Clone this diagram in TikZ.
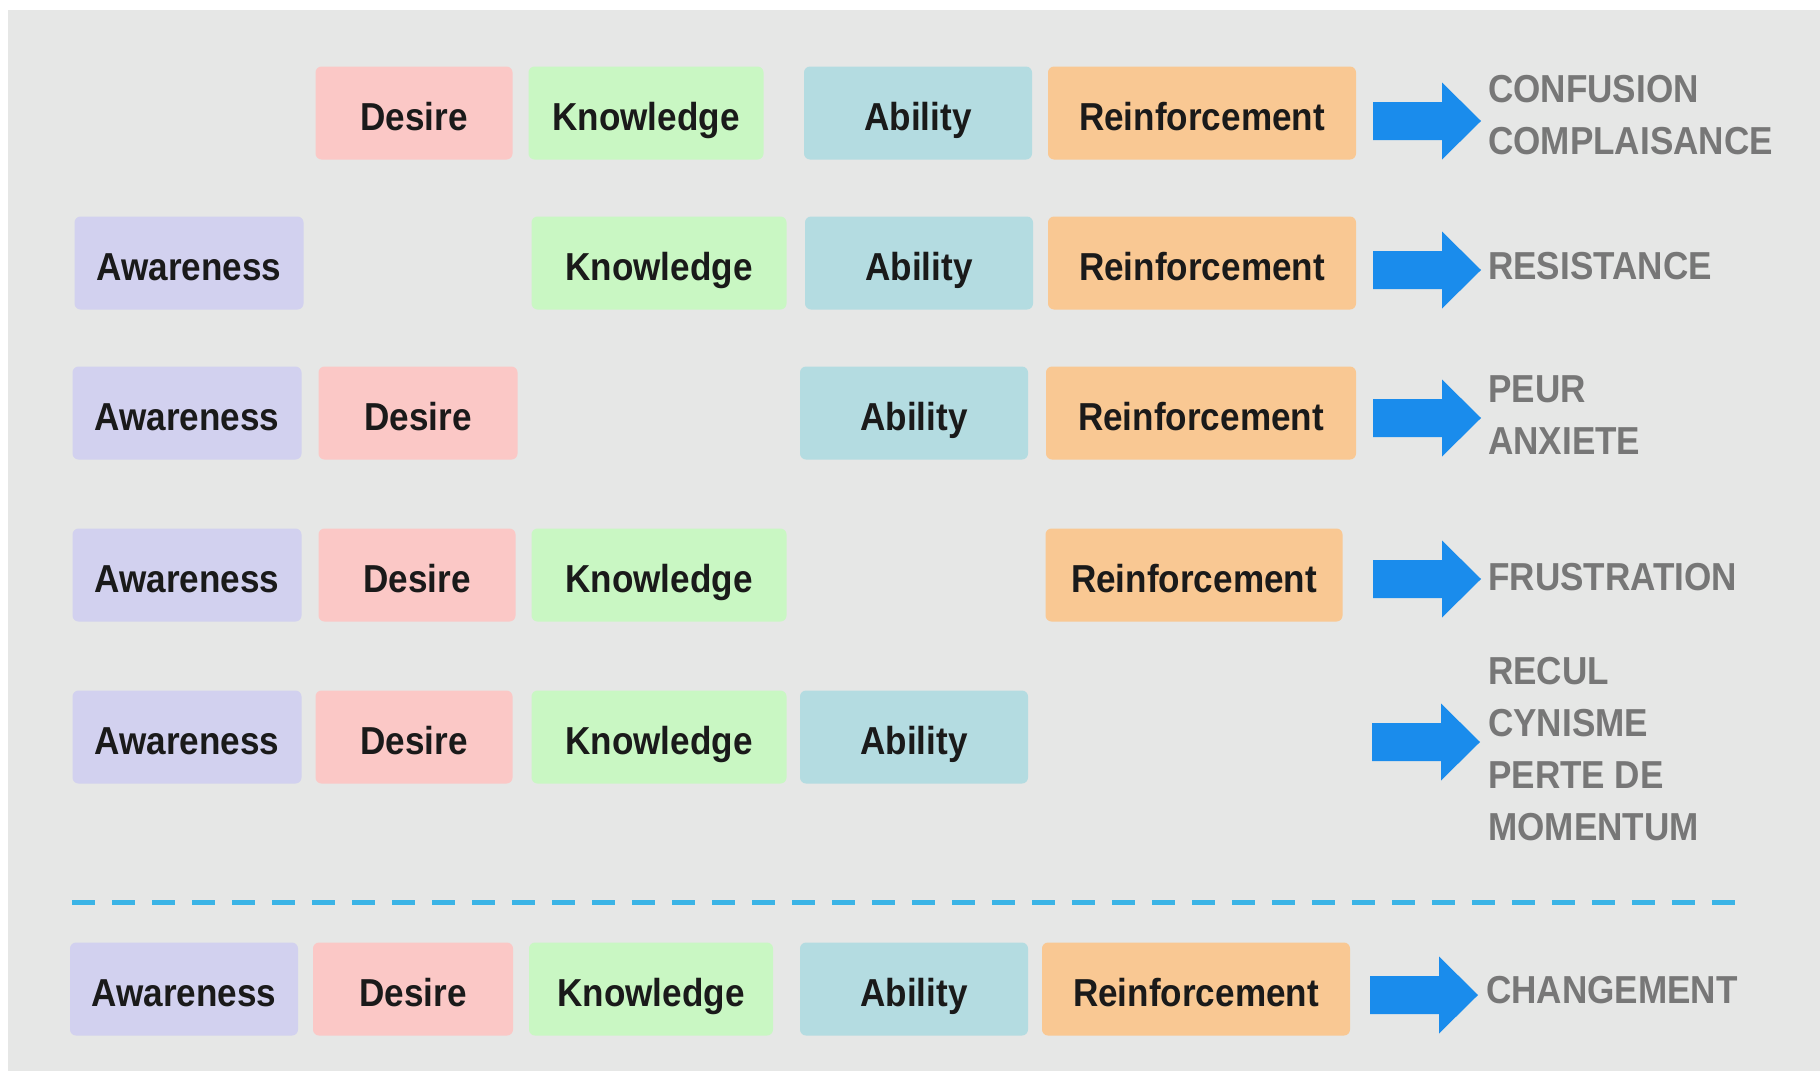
\documentclass[tikz,border=0pt]{standalone}
\usepackage{fontspec}
\newfontfamily\boxfont{Liberation Sans}[FakeStretch=0.9]
\usepackage{tikz}
\usetikzlibrary{calc}

\definecolor{bggray}{HTML}{E6E7E6}
\definecolor{awarefill}{HTML}{D2D1EF}
\definecolor{desirefill}{HTML}{FBC8C6}
\definecolor{knowfill}{HTML}{C9F7C3}
\definecolor{abilityfill}{HTML}{B4DCE1}
\definecolor{reinffill}{HTML}{F9C893}
\definecolor{arrowblue}{HTML}{1A8CEC}
\definecolor{labelgray}{HTML}{777777}
\definecolor{textblack}{HTML}{1A1A1A}
\definecolor{sepblue}{HTML}{3BB4E6}

\begin{document}
\begin{tikzpicture}[x=1pt,y=-1pt,
	box/.style={rounded corners=6pt, inner sep=0pt, minimum height=93pt, text height=34pt, text depth=0pt, text=textblack, font=\boxfont\bfseries\fontsize{39}{47}\selectfont},
	aware/.style={box, fill=awarefill, minimum width=229pt},
	desire/.style={box, fill=desirefill, minimum width=197pt},
	know/.style={box, fill=knowfill, minimum width=255pt},
	ability/.style={box, fill=abilityfill, minimum width=228pt},
	reinf/.style={box, fill=reinffill, minimum width=308pt},
	result/.style={anchor=west, inner sep=0pt, align=left, text=labelgray, font=\boxfont\bfseries\fontsize{39}{52}\selectfont},
	bigarrow/.style={fill=arrowblue}]
	\useasboundingbox (0,0) rectangle (1820,1071);
	\fill[white] (0,0) rectangle (1820,1071);
	\fill[bggray] (8,10) rectangle (1820,1071);

	% row 1 : no awareness
	\node[desire] (de1) at (414,113) {Desire};
	\node[know, minimum width=235pt] (kn1) at (646,113) {Knowledge};
	\node[ability] (ab1) at (918,113) {Ability};
	\node[reinf] (re1) at (1202,113) {Reinforcement};

	% row 2 : no desire
	\node[aware] (aw2) at (189,263) {Awareness};
	\node[know] (kn2) at (659,263) {Knowledge};
	\node[ability] (ab2) at (919,263) {Ability};
	\node[reinf] (re2) at (1202,263) {Reinforcement};

	% row 3 : no knowledge
	\node[aware] (aw3) at (187,413) {Awareness};
	\node[desire, minimum width=199pt] (de3) at (418,413) {Desire};
	\node[ability] (ab3) at (914,413) {Ability};
	\node[reinf, minimum width=310pt] (re3) at (1201,413) {Reinforcement};

	% row 4 : no ability
	\node[aware] (aw4) at (187,575) {Awareness};
	\node[desire] (de4) at (417,575) {Desire};
	\node[know] (kn4) at (659,575) {Knowledge};
	\node[reinf, minimum width=297pt] (re4) at (1194,575) {Reinforcement};

	% row 5 : no reinforcement
	\node[aware] (aw5) at (187,737) {Awareness};
	\node[desire] (de5) at (414,737) {Desire};
	\node[know] (kn5) at (659,737) {Knowledge};
	\node[ability] (ab5) at (914,737) {Ability};

	% separator
	\coordinate (sepL) at (72,902);
	\coordinate (sepR) at (1737,902);
	\draw[sepblue, line width=5pt, dash pattern=on 23pt off 17pt] (sepL) -- (sepR);

	% row 6 : all five
	\node[aware, minimum width=228pt] (aw6) at (184,989) {Awareness};
	\node[desire, minimum width=200pt] (de6) at (413,989) {Desire};
	\node[know, minimum width=244pt] (kn6) at (651,989) {Knowledge};
	\node[ability] (ab6) at (914,989) {Ability};
	\node[reinf] (re6) at (1196,989) {Reinforcement};

	% arrows
	\coordinate (ar1) at (1373,121);
	\coordinate (ar2) at (1373,270);
	\coordinate (ar3) at (1373,418);
	\coordinate (ar4) at (1373,579);
	\coordinate (ar5) at (1372,742);
	\coordinate (ar6) at (1370,995);
	\fill[bigarrow] (ar1) ++(0,-19) -- ++(69,0) -- ++(0,-19.5) -- ++(39,38.5) -- ++(-39,38.5) -- ++(0,-19.5) -- ++(-69,0) -- cycle;
	\fill[bigarrow] (ar2) ++(0,-19) -- ++(69,0) -- ++(0,-19.5) -- ++(39,38.5) -- ++(-39,38.5) -- ++(0,-19.5) -- ++(-69,0) -- cycle;
	\fill[bigarrow] (ar3) ++(0,-19) -- ++(69,0) -- ++(0,-19.5) -- ++(39,38.5) -- ++(-39,38.5) -- ++(0,-19.5) -- ++(-69,0) -- cycle;
	\fill[bigarrow] (ar4) ++(0,-19) -- ++(69,0) -- ++(0,-19.5) -- ++(39,38.5) -- ++(-39,38.5) -- ++(0,-19.5) -- ++(-69,0) -- cycle;
	\fill[bigarrow] (ar5) ++(0,-19) -- ++(69,0) -- ++(0,-19.5) -- ++(39,38.5) -- ++(-39,38.5) -- ++(0,-19.5) -- ++(-69,0) -- cycle;
	\fill[bigarrow] (ar6) ++(0,-19) -- ++(69,0) -- ++(0,-19.5) -- ++(39,38.5) -- ++(-39,38.5) -- ++(0,-19.5) -- ++(-69,0) -- cycle;

	% outcomes
	\node[result] (res1) at (1488,115) {CONFUSION\\COMPLAISANCE};
	\node[result] (res2) at (1488,266) {RESISTANCE};
	\node[result] (res3) at (1488,415) {PEUR\\ANXIETE};
	\node[result] (res4) at (1488,577) {FRUSTRATION};
	\node[result] (res5) at (1488,749) {RECUL\\CYNISME\\PERTE DE\\MOMENTUM};
	\node[result] (res6) at (1486,990) {CHANGEMENT};
\end{tikzpicture}
\end{document}
